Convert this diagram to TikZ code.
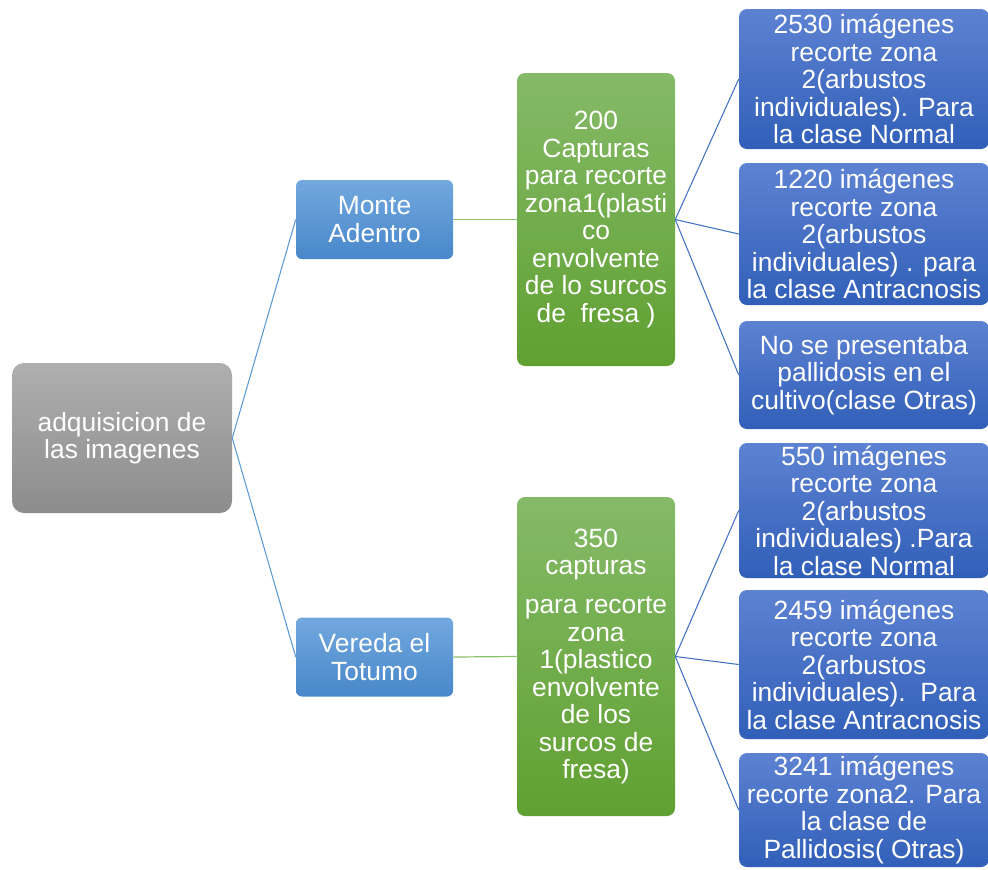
\documentclass[tikz,border=0pt]{standalone}
\usepackage{fontspec}
\setmainfont{Liberation Sans}
\definecolor{grayT}{HTML}{AFAFAF}
\definecolor{grayB}{HTML}{8C8C8C}
\definecolor{lbT}{HTML}{72A8DE}
\definecolor{lbB}{HTML}{4887CA}
\definecolor{grT}{HTML}{85BA68}
\definecolor{grB}{HTML}{60A031}
\definecolor{dbT}{HTML}{5D82D2}
\definecolor{dbB}{HTML}{315FB8}
\definecolor{lineA}{HTML}{5B9BD5}
\definecolor{lineG}{HTML}{8CC26C}
\definecolor{lineD}{HTML}{4472C4}
\tikzset{
  boxbase/.style={inner sep=0pt, align=center, text=white,
    font=\fontsize{19.8}{20.6}\selectfont},
  rootbox/.style={boxbase, rounded corners=9pt, top color=grayT, bottom color=grayB,
    minimum width=165pt, minimum height=112.5pt},
  lvlbox/.style={boxbase, rounded corners=4.5pt, top color=lbT, bottom color=lbB,
    minimum width=117.75pt, minimum height=59.25pt},
  grbox/.style={boxbase, rounded corners=6pt, top color=grT, bottom color=grB,
    minimum width=118.5pt},
  dbbox/.style={boxbase, rounded corners=6pt, top color=dbT, bottom color=dbB,
    minimum width=187.5pt},
  linkA/.style={draw=lineA, line width=0.8pt},
  linkG/.style={draw=lineG, line width=0.9pt},
  linkD/.style={draw=lineD, line width=0.8pt}
}
\begin{document}
\begin{tikzpicture}[x=0.75pt,y=-0.75pt]
\useasboundingbox (0,0) rectangle (988,869);
\node[rootbox] (root) at (122,438) {adquisicion de\\las imagenes};
\node[lvlbox] (monte) at (374.5,219.5) {Monte\\Adentro};
\node[lvlbox] (vereda) at (374.5,657) {Vereda el\\Totumo};
\node[grbox, minimum height=219.75pt] (g1) at (596,219.5) {200\\Capturas\\para recorte\\zona1(plasti\\co\\envolvente\\de lo surcos\\de\ \ fresa )};
\node[grbox, minimum height=239.25pt] (g2) at (596,656.5) {350\\capturas\\[8.6pt]para recorte\\zona\\1(plastico\\envolvente\\de los\\surcos de\\fresa)};
\node[dbbox, minimum height=105pt] (b1) at (864,79) {2530 imágenes\\recorte zona\\2(arbustos\\individuales). Para\\la clase Normal};
\node[dbbox, minimum height=106.5pt] (b2) at (864,234) {1220 imágenes\\recorte zona\\2(arbustos\\individuales) . para\\la clase Antracnosis};
\node[dbbox, minimum height=81pt] (b3) at (864,375) {No se presentaba\\pallidosis en el\\cultivo(clase Otras)};
\node[dbbox, minimum height=101.25pt] (b4) at (864,510.5) {550 imágenes\\recorte zona\\2(arbustos\\individuales) .Para\\la clase Normal};
\node[dbbox, minimum height=111.75pt] (b5) at (864,664.5) {2459 imágenes\\recorte zona\\2(arbustos\\individuales).\ \ Para\\la clase Antracnosis};
\node[dbbox, minimum height=85.5pt] (b6) at (864,810) {3241 imágenes\\recorte zona2. Para\\la clase de\\Pallidosis( Otras)};
\draw[linkA] (root.east) -- (monte.west);
\draw[linkA] (root.east) -- (vereda.west);
\draw[linkG] (monte.east) -- (g1.west);
\draw[linkG] (vereda.east) -- (g2.west);
\foreach \b in {b1,b2,b3} \draw[linkD] (g1.east) -- (\b.west);
\foreach \b in {b4,b5,b6} \draw[linkD] (g2.east) -- (\b.west);
\end{tikzpicture}
\end{document}
